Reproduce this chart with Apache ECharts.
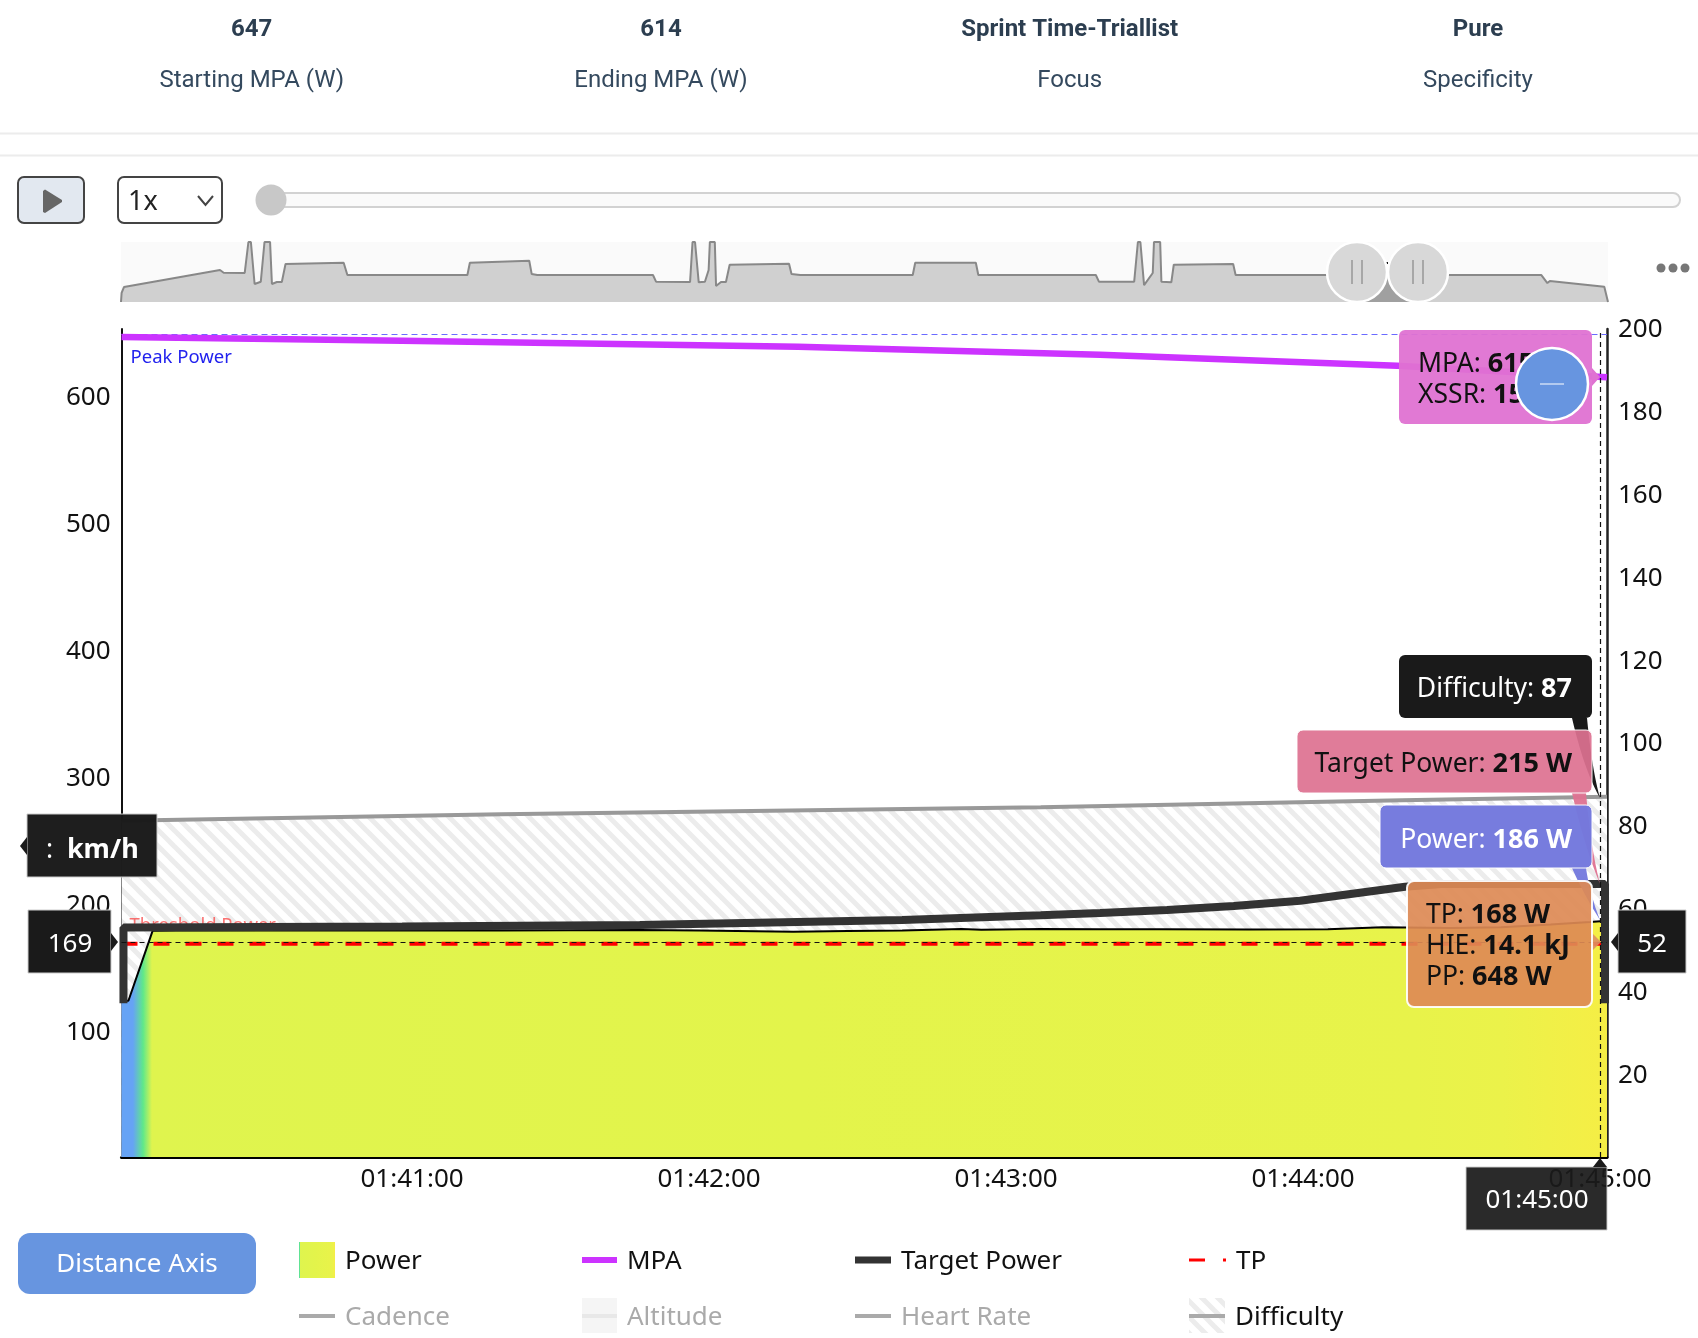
<!DOCTYPE html>
<html><head><meta charset="utf-8"><style>html,body{margin:0;padding:0;background:#fff}#c{width:1698px;height:1338px}</style>
<script src="https://cdn.jsdelivr.net/npm/echarts@6/dist/echarts.min.js"></script></head>
<body><div id="c"></div>
<script>
const FONT='"Noto Sans",sans-serif', HEAD='Roboto,sans-serif';
const summaryValues=['647','614','Sprint Time-Triallist','Pure'];
const summaryLabels=['Starting MPA (W)','Ending MPA (W)','Focus','Specificity'];
const timeTicks=[6060,6120,6180,6240,6300];
const powerTicks=[100,200,300,400,500,600];
const rightTicks=[20,40,60,80,100,120,140,160,180,200];
const powerTimes=[6001.3,6002.7,6007.6,6017,6037,6058,6078,6106,6118,6137,6148,6159,6171,6175,6187,6199,6211,6229,6245,6256,6270,6280,6290,6298,6301.4];
const powerValues=[123,123,178.2,178.5,178.3,178.6,178.4,178.7,178.4,177.4,178,178.4,179.5,179,179.5,179.3,179.3,179.2,179.3,180.9,180.3,181,183,185,186];
const targetTimes=[6001.7,6001.7,6058,6106,6159,6187,6199,6212.5,6226,6239.4,6253,6260.6,6268,6301,6301];
const targetValues=[121,180.7,181.5,182.7,186.6,190.4,192.1,194.5,197.6,201.8,208.9,212.8,215,215,121];
const mpaTimes=[6001.3,6058,6138,6199,6259,6301.4];
const mpaValues=[645.7,642.8,638,631.7,623,614];
const tpTimes=[6001.3,6301.4];
const tpValues=[168,168];
const difficultyTimes=[6001.3,6078,6187,6260,6301.4];
const difficultyValues=[81.2,82.8,84.5,86.2,87];
const peakPower=648, thresholdPower=168, cursorTime=6300, cursorPower=169;
const overviewMinutes=[0,0.05,0.24,8,8.3,10,10.3,10.5,10.8,11.3,11.6,12.05,12.2,12.6,13,13.3,18,18.3,28,28.2,33,33.2,33.65,43,43.25,46,46.2,46.4,46.7,47.2,47.5,47.6,48,48.1,48.5,48.9,49.2,54,54.2,54.9,64,64.2,69.1,69.3,78.8,79.05,81.9,82.2,82.4,82.7,83.4,83.5,84,84.1,84.9,85.1,89.9,90.1,114.8,115.3,115.5,119.9,120.2];
const overviewPower=[0,60,98,210,192,190,393,393,118,133,393,393,118,131,131,249,257,177,177,257,270,183,177,177,133,131,393,393,129,133,210,393,393,105,131,131,244,250,183,177,177,257,257,177,177,133,133,393,393,111,190,393,393,133,129,244,249,177,177,124,137,100,0];
const windowMinutes=[100,105];
const windowPower=[177,177];

const zip=(a,b)=>a.map((v,i)=>[v,b[i]]);
const pad=n=>String(n).padStart(2,'0');
const hms=s=>pad(Math.floor(s/3600))+':'+pad(Math.floor(s%3600/60))+':'+pad(Math.round(s%60));
const powerFill=()=>new echarts.graphic.LinearGradient(0,0,1,0,[
 {offset:0,color:'#66a3f5'},{offset:.0077,color:'#66a3f5'},{offset:.0145,color:'#5fe88a'},{offset:.0205,color:'#dff44e'},
 {offset:.457,color:'#e3f44b'},{offset:.87,color:'#e8f34a'},{offset:.93,color:'#ebf24a'},{offset:.96,color:'#f0f048'},{offset:1,color:'#f5ee45'}]);
function hatch(bg){const P=16;const c=document.createElement('canvas');c.width=c.height=P;const g=c.getContext('2d');
 g.fillStyle=bg||'#fff';g.fillRect(0,0,P,P);g.strokeStyle='#ececec';g.lineWidth=5;
 for(const d of [-P,0,P]){g.beginPath();g.moveTo(d-2,-2);g.lineTo(d+P+2,P+2);g.stroke();}
 return {image:c,repeat:'repeat'};}

const G=[];
const Z=100;
function txt(x,y,text,size,color,o={}){G.push({type:'text',z:o.z||Z,silent:true,style:{x,y,text,fontSize:size,fill:color,fontFamily:o.font||FONT,fontWeight:o.weight||'normal',textAlign:o.align||'center',textVerticalAlign:'middle',rich:o.rich}});}
function box(x,y,w,h,fill,o={}){G.push({type:'rect',z:o.z||Z,silent:true,shape:{x,y,width:w,height:h,r:o.r||0},style:{fill,stroke:o.stroke||null,lineWidth:o.lw||0,opacity:o.op==null?1:o.op}});}
function poly(points,fill,o={}){G.push({type:'polygon',z:o.z||Z,silent:true,shape:{points},style:{fill,opacity:o.op==null?1:o.op}});}
function chevron(points,c,w){G.push({type:'polyline',z:Z,silent:true,shape:{points},style:{stroke:c,lineWidth:w,fill:null}});}
function circ(cx,cy,r,fill,o={}){G.push({type:'circle',z:o.z||Z,silent:true,shape:{cx,cy,r},style:{fill,stroke:o.stroke||null,lineWidth:o.lw||0}});}
function seg(x1,y1,x2,y2,c,w,z){G.push({type:'line',z:z||Z,silent:true,shape:{x1,y1,x2,y2},style:{stroke:c,lineWidth:w}});}
function tail(x1,x2,y0,px,py,c1,c2,fill,o){const q=(a,b,c,t)=>(1-t)*(1-t)*a+2*t*(1-t)*b+t*t*c;const pts=[];
 for(let i=0;i<=12;i++){const t=i/12;pts.push([q(x2,c1[0],px,t),q(y0,c1[1],py,t)]);}
 for(let i=12;i>=0;i--){const t=i/12;pts.push([q(x1,c2[0],px,t),q(y0,c2[1],py,t)]);}
 poly(pts,fill,o);}

// header
[251.7,661,1069.7,1478].forEach((x,i)=>{txt(x,30,summaryValues[i],24,'#2c3e50',{font:HEAD,weight:'bold'});txt(x,81,summaryLabels[i],24,'#34495e',{font:HEAD});});
seg(0,133.5,1698,133.5,'#ececec',2);seg(0,155.5,1698,155.5,'#ececec',2);
// controls
box(18,177,66,46,'#e2e8f0',{r:6,stroke:'#444',lw:2});
poly([[43,191],[45,189.500],[62,200],[62,202],[45,213],[43,212]],'#666');
box(118,177,104,46,'#fff',{r:6,stroke:'#444',lw:2});
txt(128,202,'1x',27,'#222',{align:'left'});
chevron([[198,196],[205.500,205],[213,196]],'#444',2);
box(270,193,1410,14,'#fafafa',{r:7,stroke:'#d2d2d2',lw:2});
circ(271,200,15.5,'#c8c8c8');
// overview furniture
[1357,1418].forEach(x=>{circ(x,272,30,'#d8d8d8',{stroke:'#fff',lw:2.5});seg(x-5,260,x-5,284,'#777',1);seg(x+5,260,x+5,284,'#777',1);});
box(1386,262,2,2,'#111',{z:99});
[1661,1673,1685].forEach(x=>circ(x,268,4.5,'#777'));
// tail shapes and tooltips
box(1399,655,193,63,'#1a1a1a',{r:6});
tail(1572,1587,718,1600,798,[1592,770],[1584,770],'#1a1a1a');
tail(1572,1586,793,1600,884,[1591,850],[1584,845],'#de7291',{op:.95});
box(1297,730,295,63,'#de7291',{r:6,op:.93,stroke:'#fff',lw:1});
tail(1572,1586,868,1600,920,[1590,895],[1584,895],'#7378dd',{op:.95});
box(1380,805,212,63,'#7378dd',{r:6,op:.97,stroke:'#fff',lw:1});
poly([[1592,933],[1601,942],[1592,951]],'#de9060',{op:.9});
box(1407,881,185,126,'#dd8a55',{r:7,op:.92,stroke:'#fff',lw:2});
box(1399,330,193,94,'#df72d2',{r:6,op:.95});
poly([[1592,368],[1600,377],[1592,386]],'#df72d2');
const R=(c)=>({a:{fontSize:26.5,fontFamily:FONT,fill:c},b:{fontSize:27,fontFamily:FONT,fontWeight:'bold',fill:c}});
txt(1572,689,'{a|Difficulty: }{b|87}',26,'#fff',{align:'right',rich:R('#fff')});
txt(1572,764,'{a|Target Power: }{b|215 W}',26,'#111',{align:'right',rich:R('#111')});
txt(1572,840,'{a|Power: }{b|186 W}',26,'#fff',{align:'right',rich:R('#fff')});
txt(1426,915,'{a|TP: }{b|168 W}',26,'#111',{align:'left',rich:R('#111')});
txt(1426,946,'{a|HIE: }{b|14.1 kJ}',26,'#111',{align:'left',rich:R('#111')});
txt(1426,977,'{a|PP: }{b|648 W}',26,'#111',{align:'left',rich:R('#111')});
txt(1418,364,'{a|MPA: }{b|615 W}',26,'#111',{align:'left',rich:R('#111')});
txt(1418,395,'{a|XSSR: }{b|15}',26,'#111',{align:'left',rich:R('#111')});
circ(1552,384,36,'#6795e0',{stroke:'#fff',lw:2.5});seg(1540,384,1564,384,'#fff',1);
// cursor tags
box(28,910,83,63,'#1a1a1a',{stroke:'#ccc',lw:1});poly([[111,933],[118,942],[111,951]],'#1a1a1a');txt(70,945,'169',26,'#fff');
box(27,814,130,63,'#1a1a1a',{stroke:'#ccc',lw:1,op:.98});poly([[27,837],[20,846],[27,855]],'#1a1a1a');
txt(46,850,'{a|:  }{b|km/h}',26,'#fff',{align:'left',rich:R('#fff')});
box(1618,910,68,63,'#1a1a1a',{stroke:'#ccc',lw:1});poly([[1618,933],[1611,942],[1618,951]],'#1a1a1a');txt(1652,945,'52',26,'#fff');
box(1466,1167,141,63,'#1a1a1a',{stroke:'#ccc',lw:1,op:.93});poly([[1600,1158],[1607,1167],[1593,1167]],'#1a1a1a');txt(1537,1201,hms(cursorTime),26,'#fff');
// legend furniture
box(18,1233,238,61,'#6795e0',{r:12});txt(137,1265,'Distance Axis',26,'#fff');
box(582,1298,35,35,'#f5f5f5',{z:3});
seg(582,1316,617,1316,'#e8e8e8',4,5);
box(1189,1298,36,35,hatch(),{z:3});

const lg=(name,left,center,w,h,o={})=>({show:true,orient:'horizontal',left,top:center-Math.max(h,30)/2,padding:0,itemWidth:w,itemHeight:h,inactiveColor:'#aaa',selectedMode:true,
 formatter:n=>'\n'+n,
 textStyle:{fontFamily:FONT,fontSize:26,color:'#111',lineHeight:4,padding:[0,0,0,5]},
 selected:{Cadence:false,Altitude:false,'Heart Rate':false},
 data:[{name,icon:o.icon||'rect',itemStyle:{color:o.color,borderWidth:0}}]});
const L1=1260,L2=1316;
const option={animation:false,backgroundColor:'#fff',textStyle:{fontFamily:FONT},
 grid:[{left:121.5,top:329,width:1485.5,height:828,containLabel:false},
       {left:121,top:242,width:1487,height:60,show:true,backgroundColor:'#fafafa',borderWidth:0}],
 legend:[lg('Power',299,L1,36,36,{color:powerFill()}),lg('MPA',582,L1,35,6,{color:'#cc33ff'}),lg('Target Power',855,L1,36,7,{color:'#333'}),
  lg('TP',1189,L1,37,3,{color:'#f00',icon:'path://M0 0h16v3H0zM34 0h3v3h-3z'}),
  lg('Cadence',299,L2,36,4,{color:'#aaa'}),lg('Altitude',582,L2,35,4,{color:'#aaa'}),lg('Heart Rate',855,L2,36,4,{color:'#aaa'}),lg('Difficulty',1189,L2,36,4,{color:'#aaa'})],
 xAxis:[{type:'value',gridIndex:0,min:6001.3,max:6301.4,splitLine:{show:false},
   axisLine:{onZero:false,lineStyle:{color:'#000',width:3}},axisTick:{show:false},
   axisLabel:{customValues:timeTicks,formatter:v=>hms(v),fontFamily:FONT,fontSize:26,color:'#111',margin:10,hideOverlap:false}},
  {type:'value',gridIndex:1,min:0,max:120.2,show:false}],
 yAxis:[{type:'value',gridIndex:0,min:0,max:652,splitLine:{show:false},axisLine:{show:true,lineStyle:{color:'#111',width:2}},axisTick:{show:false},
   axisLabel:{customValues:powerTicks,fontFamily:FONT,fontSize:26,color:'#111',margin:11,verticalAlign:'top',lineHeight:5}},
  {type:'value',gridIndex:0,position:'right',min:0,max:200,splitLine:{show:false},axisLine:{show:true,lineStyle:{color:'#222',width:2.5}},axisTick:{show:false},
   axisLabel:{customValues:rightTicks,fontFamily:FONT,fontSize:26,color:'#111',margin:11,verticalAlign:'top',lineHeight:2}},
  {type:'value',gridIndex:1,min:0,max:393,show:false}],
 graphic:G,
 series:[
  {name:'Difficulty',type:'line',xAxisIndex:0,yAxisIndex:1,z:1,showSymbol:false,data:zip(difficultyTimes,difficultyValues),
   lineStyle:{color:'#999',width:4},itemStyle:{color:'#aaa'},areaStyle:{color:hatch(),opacity:1}},
  {name:'Power',type:'line',xAxisIndex:0,yAxisIndex:0,z:2,showSymbol:false,data:zip(powerTimes,powerValues),
   lineStyle:{color:'#000',width:2},itemStyle:{color:'#e2f34c'},areaStyle:{color:powerFill(),opacity:1}},
  {name:'TP',type:'line',xAxisIndex:0,yAxisIndex:0,z:3,showSymbol:false,data:zip(tpTimes,tpValues),
   lineStyle:{color:'#f00',width:4,type:[16,16]},itemStyle:{color:'#f00'},
   markLine:{silent:true,symbol:'none',z:5,data:[{yAxis:thresholdPower}],lineStyle:{width:1,color:'transparent'},
     label:{show:true,position:'insideStartTop',formatter:'Threshold Power',distance:8,fontFamily:FONT,fontSize:18.5,color:'rgba(250,80,80,.8)'}}},
  {name:'Target Power',type:'line',xAxisIndex:0,yAxisIndex:0,z:6,clip:false,showSymbol:false,data:zip(targetTimes,targetValues),
   lineStyle:{color:'#333',width:8,join:'bevel'},itemStyle:{color:'#333'}},
  {name:'MPA',type:'line',xAxisIndex:0,yAxisIndex:0,z:7,showSymbol:false,data:zip(mpaTimes,mpaValues),
   lineStyle:{color:'#cc33ff',width:6.5},itemStyle:{color:'#cc33ff'},
   markLine:{silent:true,symbol:'none',z:4,data:[{yAxis:peakPower}],lineStyle:{color:'#6a6aff',width:1,type:[6,4]},
     label:{position:'insideStartBottom',formatter:'Peak Power',distance:9,padding:[5,0,0,0],fontFamily:FONT,fontSize:18.5,color:'#2222ee'}}},
  {name:'Cadence',type:'line',xAxisIndex:0,yAxisIndex:1,data:[],showSymbol:false},
  {name:'Altitude',type:'line',xAxisIndex:0,yAxisIndex:1,data:[],showSymbol:false},
  {name:'Heart Rate',type:'line',xAxisIndex:0,yAxisIndex:1,data:[],showSymbol:false},
  {name:'Cursor',type:'line',xAxisIndex:0,yAxisIndex:0,z:8,data:[],showSymbol:false,
   markLine:{silent:true,symbol:'none',z:8,label:{show:false},lineStyle:{color:'#111',width:1.2,type:[5,4]},data:[{xAxis:cursorTime},{yAxis:cursorPower}]}},
  {name:'Overview',type:'line',xAxisIndex:1,yAxisIndex:2,z:2,showSymbol:false,data:zip(overviewMinutes,overviewPower),
   lineStyle:{color:'#888',width:2},itemStyle:{color:'#888'},areaStyle:{color:'#d0d0d0',opacity:1}},
  {name:'Window',type:'line',xAxisIndex:1,yAxisIndex:2,z:3,showSymbol:false,data:zip(windowMinutes,windowPower),
   lineStyle:{width:0},itemStyle:{color:'#a0a0a0'},areaStyle:{color:'#a0a0a0',opacity:1}}
 ]};
echarts.init(document.getElementById('c'),null,{renderer:'canvas'}).setOption(option);
</script></body></html>
